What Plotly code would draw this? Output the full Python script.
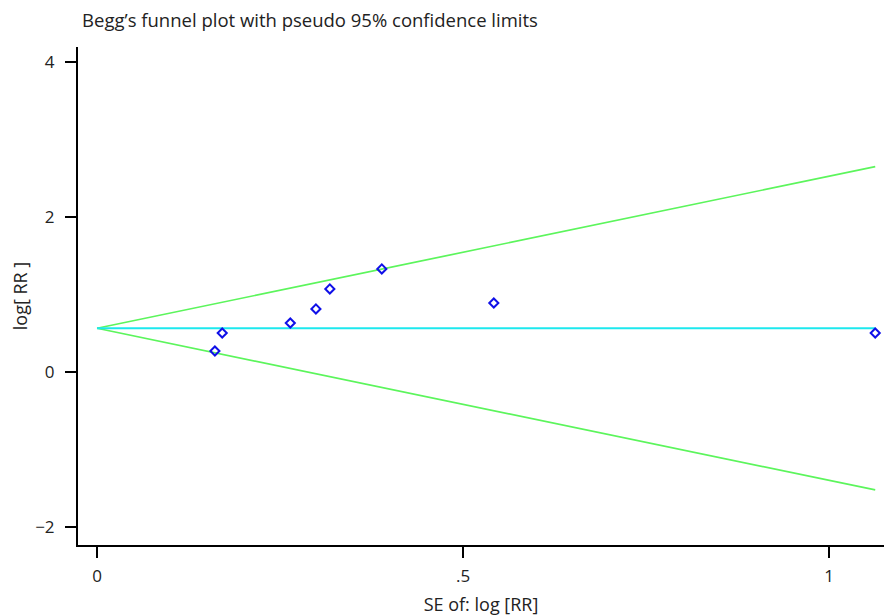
import plotly.graph_objects as go

# Study data
se_log_rr = [0.161, 0.171, 0.264, 0.299, 0.318, 0.389, 0.542, 1.063]
log_rr = [0.271, 0.503, 0.632, 0.813, 1.071, 1.329, 0.890, 0.503]
pooled_log_rr = 0.564
z95 = 1.96

x_tick_vals = [0, 0.5, 1]
x_tick_text = ["0", ".5", "1"]
y_tick_vals = [-2, 0, 2, 4]
y_tick_text = ["\u22122", "0", "2", "4"]

se_line = [0, max(se_log_rr)]
upper = [pooled_log_rr + z95 * s for s in se_line]
lower = [pooled_log_rr - z95 * s for s in se_line]
center = [pooled_log_rr for _ in se_line]

font_family = "Open Sans, Lato, sans-serif"
text_color = "#222"

fig = go.Figure()
fig.add_trace(go.Scatter(x=se_line, y=upper, mode="lines", cliponaxis=False,
                         line=dict(color="#5cf55c", width=1.7), hoverinfo="skip"))
fig.add_trace(go.Scatter(x=se_line, y=lower, mode="lines", cliponaxis=False,
                         line=dict(color="#5cf55c", width=1.7), hoverinfo="skip"))
fig.add_trace(go.Scatter(x=se_line, y=center, mode="lines", cliponaxis=False,
                         line=dict(color="#1de8ee", width=2.2), hoverinfo="skip"))
fig.add_trace(go.Scatter(x=se_log_rr, y=log_rr, mode="markers", cliponaxis=False,
                         marker=dict(symbol="diamond-open", size=7, color="#1010e8",
                                     line=dict(width=2, color="#1010e8"))))

fig.update_layout(
    width=884, height=616,
    showlegend=False,
    paper_bgcolor="white", plot_bgcolor="white",
    margin=dict(l=78, r=0, t=47, b=71),
    font=dict(family=font_family, size=17, color=text_color),
    title=dict(text="Begg\u2019s funnel plot with pseudo 95% confidence limits",
               x=310 / 884, xanchor="center", y=1 - 21 / 616, yanchor="middle",
               font=dict(size=18.5, color=text_color, family=font_family)),
    xaxis=dict(range=[-0.026, 1.075], tickvals=x_tick_vals, ticktext=x_tick_text,
               automargin=False,
               showgrid=False, zeroline=False, showline=True, linecolor="black",
               linewidth=2, ticks="outside", ticklen=11, tickwidth=2, tickcolor="black",
               tickfont=dict(size=17), ticklabelstandoff=4,
               title=dict(text="SE of: log [RR]", standoff=14, font=dict(size=18))),
    yaxis=dict(range=[-2.23, 4.19], tickvals=y_tick_vals, ticktext=y_tick_text,
               automargin=False,
               showgrid=False, zeroline=False, showline=True, linecolor="black",
               linewidth=2, ticks="outside", ticklen=11, tickwidth=2, tickcolor="black",
               tickfont=dict(size=17), ticklabelstandoff=7,
               title=dict(text="log[ RR ]", standoff=3, font=dict(size=18))),
)

fig.write_html("out.html",
               config={"displayModeBar": False},
               post_script="document.body.style.margin='0';document.body.style.overflow='hidden';")
